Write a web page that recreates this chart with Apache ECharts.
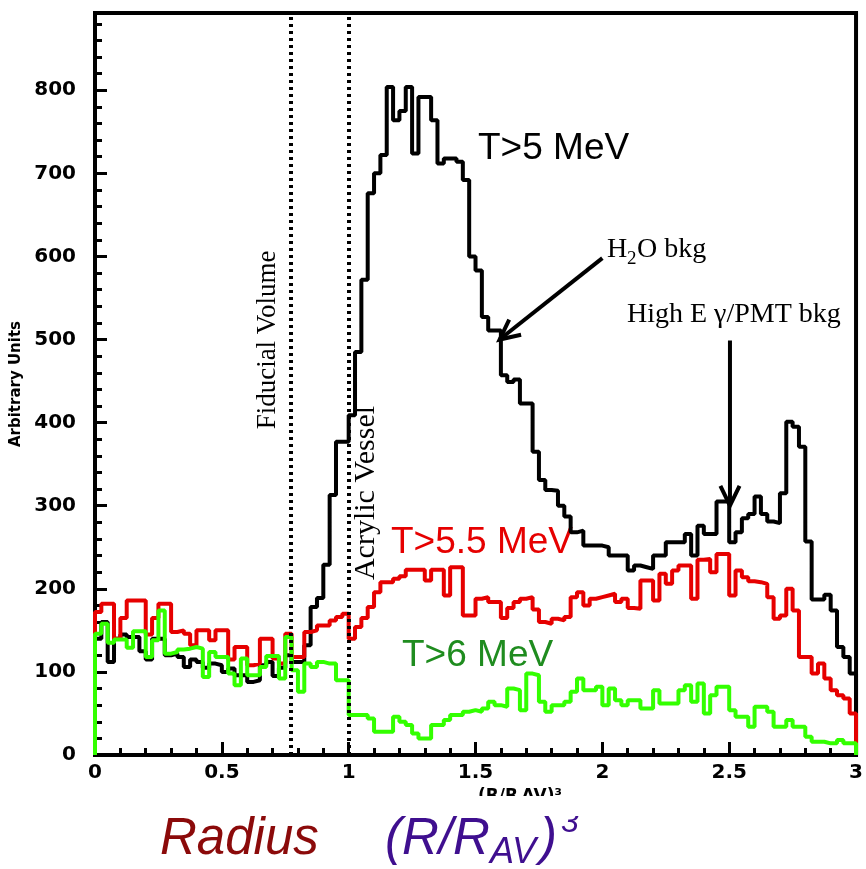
<!DOCTYPE html>
<html>
<head>
<meta charset="utf-8">
<script src="https://cdn.jsdelivr.net/npm/echarts@6.0.0/dist/echarts.min.js"></script>
<style>
  html, body { margin: 0; padding: 0; background: #fff; }
  #main { width: 866px; height: 869px; }
</style>
</head>
<body>
<div id="main"></div>
<script type="text/javascript">
// histogram: 120 bins of 0.025 from 0 to 3
var binStart = 0;
var binWidth = 0.025;

var t5 = [   // T>5 MeV (black)
  140,160,112,140,145,142,142,125,115,140,
  140,120,122,118,106,115,112,105,110,108,
  100,104,96,96,88,90,108,112,95,105,
  120,112,112,132,178,189,229,313,377,377,
  409,485,572,676,700,722,804,764,775,804,
  724,792,792,764,712,718,718,714,692,600,
  583,527,511,511,457,449,452,423,423,365,
  331,319,318,300,287,268,270,252,252,252,
  250,240,240,240,222,228,226,224,240,240,
  256,256,256,266,240,276,266,266,305,305,
  256,268,285,290,311,290,281,279,315,401,
  395,371,257,187,187,193,174,130,118,98
];
var t55 = [  // T>5.5 MeV (red)
  172,182,182,140,165,186,186,186,145,165,
  182,182,148,150,146,132,150,150,138,150,
  150,115,130,130,108,110,140,140,116,110,
  146,118,118,148,150,156,156,162,166,170,
  140,154,165,178,196,208,208,212,215,223,
  223,223,210,223,223,192,226,226,168,168,
  188,190,184,184,165,177,184,188,190,175,
  160,158,164,162,166,190,196,180,188,190,
  192,194,184,188,177,176,210,210,186,218,
  206,222,228,228,188,235,236,220,242,242,
  192,222,214,209,208,206,190,164,168,200,
  174,118,118,98,110,92,78,72,68,50
];
var t6 = [   // T>6 MeV (green)
  146,158,135,139,139,129,149,149,118,138,
  174,122,124,127,128,130,128,94,124,118,
  118,98,84,116,96,96,106,119,119,92,
  142,102,76,110,106,112,110,110,90,90,
  48,48,48,44,28,28,28,46,40,36,
  26,20,20,36,36,42,48,48,52,54,
  52,56,64,60,58,80,78,54,98,96,
  64,52,60,60,64,76,92,78,78,82,
  60,80,66,60,66,66,56,56,78,62,
  62,62,78,84,64,86,50,72,82,82,
  54,46,46,34,58,58,52,34,34,42,
  34,34,22,16,16,14,14,18,14,14
];

var boundaryX = [0.77, 1.0];          // fiducial volume, acrylic vessel
var boundaryNames = ['Fiducial Volume', 'Acrylic Vessel'];
var yMax = 893;

// turn bin contents into the outline of a histogram
function histo(vals) {
  var pts = [[binStart, 0]];
  for (var i = 0; i < vals.length; i++) {
    pts.push([binStart + i * binWidth, vals[i]]);
  }
  var xEnd = binStart + vals.length * binWidth;
  pts.push([xEnd, vals[vals.length - 1]]);
  pts.push([xEnd, 0]);
  return pts;
}

var myChart = echarts.init(document.getElementById('main'));

var labelFont = { color: '#000', fontFamily: 'DejaVu Sans', fontWeight: 'bold', fontSize: 20 };

var option = {
  animation: false,
  grid: { left: 95, right: 4, top: 13, bottom: 114, show: true, borderColor: '#000', borderWidth: 4 },
  xAxis: {
    type: 'value', min: 0, max: 3, interval: 0.5,
    axisLine: { lineStyle: { color: '#000', width: 4 } },
    axisTick: { inside: true, length: 13, lineStyle: { color: '#000', width: 3 } },
    minorTick: { show: true, splitNumber: 5, length: 7, lineStyle: { color: '#000', width: 3 } },
    splitLine: { show: false },
    axisLabel: Object.assign({ margin: 8 }, labelFont)
  },
  yAxis: {
    type: 'value', min: 0, max: yMax, interval: 100,
    name: 'Arbitrary Units', nameLocation: 'middle', nameGap: 68, nameRotate: 90,
    nameTextStyle: { color: '#000', fontFamily: 'DejaVu Sans', fontWeight: 'bold', fontSize: 15 },
    axisLine: { lineStyle: { color: '#000', width: 4 } },
    axisTick: { inside: true, length: 12, lineStyle: { color: '#000', width: 3 } },
    minorTick: { show: true, splitNumber: 5, length: 7, lineStyle: { color: '#000', width: 3 } },
    splitLine: { show: false },
    axisLabel: Object.assign({ margin: 19, showMaxLabel: false }, labelFont)
  },
  series: [
    {
      name: 'T>5 MeV', type: 'line', step: 'end', symbol: 'none',
      data: histo(t5),
      lineStyle: { color: '#000', width: 4 },
      markLine: {
        silent: true, symbol: 'none', label: { show: false },
        lineStyle: { color: '#000', width: 4, type: [3, 4] },
        data: boundaryX.map(function (x) { return { xAxis: x }; })
      }
    },
    {
      name: 'T>5.5 MeV', type: 'line', step: 'end', symbol: 'none',
      data: histo(t55),
      lineStyle: { color: '#e60000', width: 4 }
    },
    {
      name: 'T>6 MeV', type: 'line', step: 'end', symbol: 'none',
      data: histo(t6),
      lineStyle: { color: '#33ff00', width: 4 }
    }
  ]
};
myChart.setOption(option);

// annotations: arrows placed in data coordinates
function px(p) { return myChart.convertToPixel({ gridIndex: 0 }, p); }
function arrow(from, to) {
  var a = px(from), b = px(to);
  var ang = Math.atan2(a[1] - b[1], a[0] - b[0]);
  var L = 22, spread = 0.45;
  return [
    { type: 'line', shape: { x1: a[0], y1: a[1], x2: b[0], y2: b[1] }, style: { stroke: '#000', lineWidth: 4 } },
    { type: 'polyline', shape: { points: [
        [b[0] + L * Math.cos(ang + spread), b[1] + L * Math.sin(ang + spread)],
        [b[0], b[1]],
        [b[0] + L * Math.cos(ang - spread), b[1] + L * Math.sin(ang - spread)]
      ] }, style: { stroke: '#000', lineWidth: 4, fill: null } }
  ];
}

var serif = 'Liberation Serif';
var sans = 'Liberation Sans';
var fv = px([boundaryX[0], 0]), av = px([boundaryX[1], 0]);

var graphics = []
  .concat(arrow([2.0, 598], [1.595, 500]))
  .concat(arrow([2.503, 499], [2.503, 300]))
  .concat([
    { type: 'text', x: fv[0] - 22, y: 340, rotation: Math.PI / 2,
      style: { text: boundaryNames[0], font: '27px ' + serif, fill: '#000', align: 'center', verticalAlign: 'middle' } },
    { type: 'text', x: av[0] + 17, y: 493, rotation: Math.PI / 2,
      style: { text: boundaryNames[1], font: '30px ' + serif, fill: '#000', align: 'center', verticalAlign: 'middle' } },
    { type: 'text', x: 478, y: 149, style: { text: 'T>5 MeV', font: '37px ' + sans, fill: '#000', verticalAlign: 'middle' } },
    { type: 'text', x: 391, y: 543, style: { text: 'T>5.5 MeV', font: '37px ' + sans, fill: '#e60000', verticalAlign: 'middle' } },
    { type: 'text', x: 402, y: 656, style: { text: 'T>6 MeV', font: '37px ' + sans, fill: '#1f8c1f', verticalAlign: 'middle' } },
    // H2O bkg
    { type: 'text', x: 607, y: 250, style: { text: 'H', font: '28px ' + serif, fill: '#000', verticalAlign: 'middle' } },
    { type: 'text', x: 627, y: 259, style: { text: '2', font: '19px ' + serif, fill: '#000', verticalAlign: 'middle' } },
    { type: 'text', x: 637, y: 250, style: { text: 'O bkg', font: '28px ' + serif, fill: '#000', verticalAlign: 'middle' } },
    { type: 'text', x: 627, y: 315, style: { text: 'High E \u03b3/PMT bkg', font: '28px ' + serif, fill: '#000', verticalAlign: 'middle' } },
    // partially hidden axis title under the tick labels
    { type: 'text', x: 478, y: 797, style: { text: '(R/R\u2009AV)\u00b3', font: 'bold 17px DejaVu Sans', fill: '#000', verticalAlign: 'middle' } },
    { type: 'rect', shape: { x: 460, y: 796, width: 120, height: 20 }, style: { fill: '#fff' }, z: 10 },
    // big caption under the chart
    { type: 'text', x: 160, y: 840, style: { text: 'Radius', font: 'italic 51px ' + sans, fill: '#8b0a0a', verticalAlign: 'middle' } },
    { type: 'text', x: 385, y: 840, style: { text: '(R/R', font: 'italic 51px ' + sans, fill: '#3f0f8f', verticalAlign: 'middle' } },
    { type: 'text', x: 490, y: 853, style: { text: 'AV', font: 'italic 36px ' + sans, fill: '#3f0f8f', verticalAlign: 'middle' } },
    { type: 'text', x: 540, y: 840, style: { text: ')', font: 'italic 51px ' + sans, fill: '#3f0f8f', verticalAlign: 'middle' } },
    { type: 'text', x: 561, y: 823, style: { text: '3', font: 'italic 32px ' + sans, fill: '#3f0f8f', verticalAlign: 'middle' } }
  ]);

myChart.setOption({ graphic: graphics });
</script>
</body>
</html>
